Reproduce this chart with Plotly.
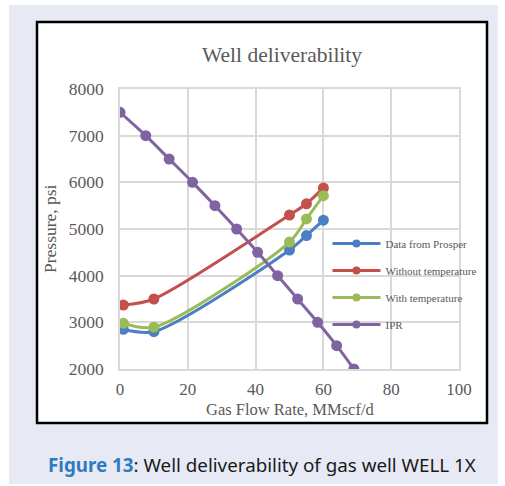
import plotly.graph_objects as go

# Gas flow rate (MMscf/d) and flowing pressure (psi) for each curve
prosper_q = [1, 10, 50, 55, 60]
prosper_p = [2850, 2800, 4550, 4860, 5190]

no_temp_q = [1, 10, 50, 55, 60]
no_temp_p = [3370, 3500, 5300, 5540, 5880]

with_temp_q = [1, 10, 50, 55, 60]
with_temp_p = [2980, 2895, 4720, 5215, 5715]

ipr_q = [0, 7.6, 14.5, 21.4, 28, 34.4, 40.6, 46.5, 52.4, 58.3, 63.9, 69]
ipr_p = [7500, 7000, 6500, 6000, 5500, 5000, 4500, 4000, 3500, 3000, 2500, 2000]

x_ticks = [0, 20, 40, 60, 80, 100]
y_ticks = [2000, 3000, 4000, 5000, 6000, 7000, 8000]

series = [
    ("Data from Prosper", prosper_q, prosper_p, "#4a7fc4"),
    ("Without temperature", no_temp_q, no_temp_p, "#c4504d"),
    ("With temperature", with_temp_q, with_temp_p, "#9bbb59"),
    ("IPR", ipr_q, ipr_p, "#8064a2"),
]

SERIF = "Liberation Serif"
GREY = "#595959"
GRID = "#d9d9d9"

fig = go.Figure()
for i, (name, q, p, color) in enumerate(series):
    fig.add_trace(go.Scatter(
        x=q, y=p, name=name, mode="lines+markers",
        line=dict(color=color, width=3, shape="spline", smoothing=0.8),
        marker=dict(color=color, size=11),
        legendgroup=f"g{i}", showlegend=False,
    ))
# legend entries drawn with smaller markers than the curves
for i, (name, q, p, color) in enumerate(series):
    fig.add_trace(go.Scatter(
        x=[None], y=[None], name=name, mode="lines+markers",
        line=dict(color=color, width=3),
        marker=dict(color=color, size=8),
        legendgroup=f"g{i}", showlegend=True,
    ))

fig.update_layout(
    width=505, height=486, autosize=False,
    margin=dict(l=120, r=46, t=89, b=117),
    paper_bgcolor="white", plot_bgcolor="white",
    showlegend=True,
    legend=dict(
        x=0.612, y=0.5, xanchor="left", yanchor="top",
        bgcolor="rgba(0,0,0,0)",
        font=dict(family=SERIF, size=11, color=GREY),
        traceorder="grouped", tracegroupgap=8,
        itemwidth=48,
    ),
    xaxis=dict(
        range=[0, 100], tickvals=x_ticks, showgrid=True, gridcolor=GRID, gridwidth=1.5,
        zeroline=False, showline=True, linecolor=GRID, linewidth=1.5, mirror=True,
        ticks="", ticklabelstandoff=4,
        tickfont=dict(family=SERIF, size=17, color=GREY),
    ),
    yaxis=dict(
        range=[2000, 8000], tickvals=y_ticks, showgrid=True, gridcolor=GRID, gridwidth=1.5,
        zeroline=False, showline=True, linecolor=GRID, linewidth=1.5, mirror=True,
        ticks="", ticklabelstandoff=11,
        tickfont=dict(family=SERIF, size=17.5, color=GREY),
    ),
    shapes=[
        # light page panel behind the figure
        dict(type="rect", xref="paper", yref="paper",
             x0=(9 - 120) / 339, x1=(498 - 120) / 339,
             y0=(369 - 484) / 280, y1=(369 - 5) / 280,
             fillcolor="#e7eaf5", line=dict(width=0), layer="below"),
        # white chart frame with black border
        dict(type="rect", xref="paper", yref="paper",
             x0=(37 - 120) / 339, x1=(487 - 120) / 339,
             y0=(369 - 423) / 280, y1=(369 - 22) / 280,
             fillcolor="white", line=dict(color="black", width=2.5), layer="below"),
    ],
    annotations=[
        dict(text="Well deliverability", xref="paper", yref="paper",
             x=(282 - 120) / 339, y=(369 - 55) / 280, showarrow=False,
             xanchor="center", yanchor="middle",
             font=dict(family=SERIF, size=21.5, color=GREY)),
        dict(text="Pressure, psi", xref="paper", yref="paper",
             x=(50 - 120) / 339, y=0.5, textangle=-90, showarrow=False,
             xanchor="center", yanchor="middle",
             font=dict(family=SERIF, size=17.5, color=GREY)),
        dict(text="Gas Flow Rate, MMscf/d", xref="paper", yref="paper",
             x=0.5, y=(369 - 409) / 280, showarrow=False,
             xanchor="center", yanchor="middle",
             font=dict(family=SERIF, size=16.5, color=GREY)),
        dict(text="<b><span style='color:#2f7bc0'>Figure 13</span></b>: Well deliverability of gas well WELL 1X",
             xref="paper", yref="paper",
             x=(262 - 120) / 339, y=(369 - 465) / 280, showarrow=False,
             xanchor="center", yanchor="middle",
             font=dict(family="Noto Sans", size=18.8, color="#1a1a1a")),
    ],
)

fig.write_html("out.html")
